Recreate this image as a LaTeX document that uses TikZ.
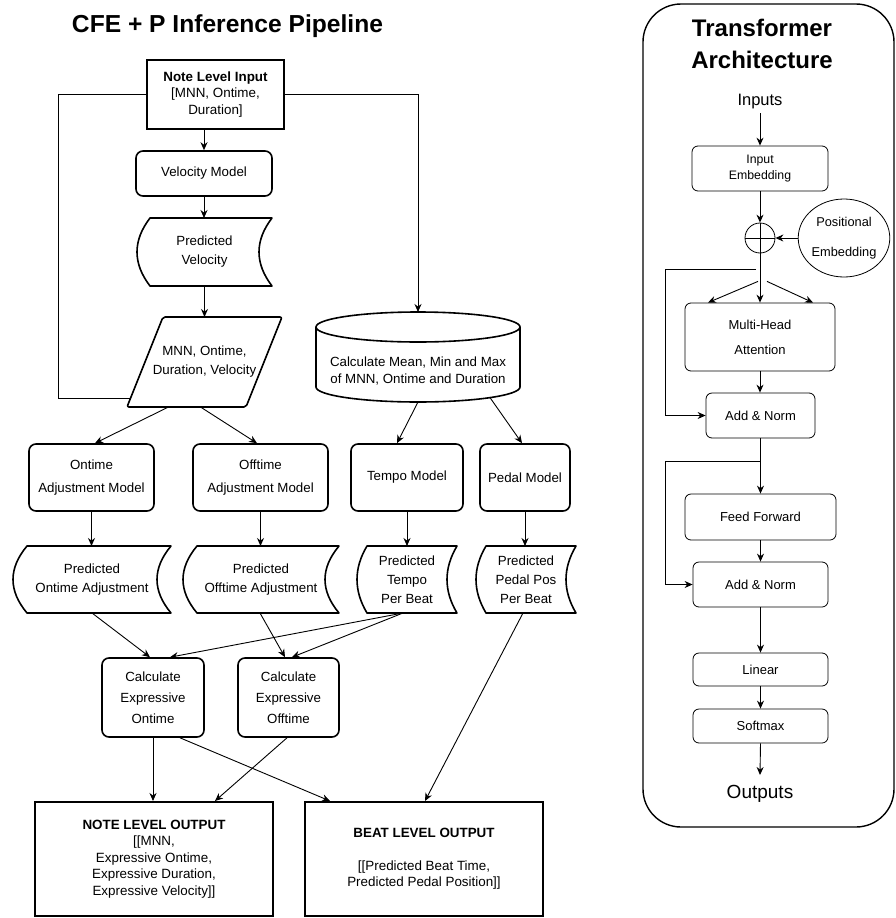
\documentclass[tikz,border=0pt]{standalone}
\usepackage{fontspec}
\setmainfont{Liberation Sans}
\usetikzlibrary{arrows.meta,calc,shapes.geometric}
\newcommand\storeshape[2]{%
  \draw[shp] ($(#1.north west)+(#2,0)$) -- (#1.north east)
    .. controls ($(#1.north east)!1/3!(#1.south east)+(-4*#2/3,0)$) and ($(#1.north east)!2/3!(#1.south east)+(-4*#2/3,0)$) .. (#1.south east)
    -- ($(#1.south west)+(#2,0)$)
    .. controls ($(#1.north west)!2/3!(#1.south west)+(-#2/3,0)$) and ($(#1.north west)!1/3!(#1.south west)+(-#2/3,0)$) .. ($(#1.north west)+(#2,0)$) -- cycle;}
\tikzset{
  fsz/.style 2 args={font=\fontsize{#1}{#2}\selectfont},
  lbox/.style={draw, line width=1.6pt, inner sep=0pt, align=center, fsz={13.3}{19}},
  lrbox/.style={lbox, rounded corners=7pt},
  ghost/.style={inner sep=0pt, outer sep=0pt, align=center, fsz={13.3}{19}},
  tbox/.style={draw, line width=0.8pt, rounded corners=6pt, inner sep=0pt, align=center, fsz={13}{15}},
  sz/.style 2 args={minimum width=#1pt, minimum height=#2pt},
  shp/.style={line width=1.6pt, line join=round},
  arr/.style={line width=0.9pt, -{Stealth[length=8pt,width=7pt]}},
  conn/.style={line width=0.9pt},
}
\begin{document}
\begin{tikzpicture}[x=1pt,y=-1pt]
\useasboundingbox (0,0) rectangle (896,918);

% ---------------- left pipeline ----------------
\node[font=\fontsize{24.6}{29}\selectfont\bfseries] (title) at (227.5,26) {CFE + P Inference Pipeline};

\node[lbox, line width=2pt, sz={137}{69}, fsz={13.4}{16.5}] (nli) at (215.5,94.5)
  {\textbf{Note Level Input}\\{[}MNN, Ontime,\\Duration{]}};
\node[lrbox, sz={136}{45}] (vm) at (204,173.5) {Velocity Model};
\node[ghost, sz={135}{68}] (pv) at (204.5,252) {Predicted\\Velocity};
\storeshape{pv}{13}
\node[ghost, sz={155}{90}] (par) at (204.5,362) {MNN, Ontime,\\Duration, Velocity};
\draw[shp, rounded corners=2pt] ($(par.north west)+(36,0)$) -- (par.north east) -- ($(par.south east)+(-36,0)$) -- (par.south west) -- cycle;

\node[ghost, sz={204}{90}] (cyl) at (418,357) {};
\draw[shp] ($(cyl.north)+(0,15)$) ellipse[x radius=102pt, y radius=15pt];
\draw[shp] ($(cyl.north west)+(0,15)$) -- ($(cyl.south west)+(0,-15)$)
  arc[start angle=180, end angle=360, x radius=102pt, y radius=15pt] -- ($(cyl.north east)+(0,15)$);
\node[ghost, fsz={13.3}{17}] (cylt) at (418,371.5) {Calculate Mean, Min and Max\\of MNN, Ontime and Duration};

\node[lrbox, sz={125}{67}, fsz={13.3}{23}] (oam) at (91.5,477.5) {Ontime\\Adjustment Model};
\node[lrbox, sz={135}{67}, fsz={13.3}{23}] (ofm) at (260.5,477.5) {Offtime\\Adjustment Model};
\node[lrbox, sz={112}{67}] (tm) at (407,477.5) {Tempo Model};
\node[lrbox, sz={90}{67}] (pm) at (525,477.5) {Pedal Model};

\node[ghost, sz={158}{67}] (poa) at (92,579.5) {Predicted\\Ontime Adjustment};
\storeshape{poa}{14}
\node[ghost, sz={156}{67}] (pfa) at (261,579.5) {Predicted\\Offtime Adjustment};
\storeshape{pfa}{14}
\node[ghost, sz={100}{67}] (pt) at (407,579.5) {Predicted\\Tempo\\Per Beat};
\storeshape{pt}{10}
\node[ghost, sz={100}{67}] (pp) at (526,579.5) {Predicted\\Pedal Pos\\Per Beat};
\storeshape{pp}{10}

\node[lrbox, sz={102}{79}, fsz={13.3}{21}] (ceo) at (153,697.5) {Calculate\\Expressive\\Ontime};
\node[lrbox, sz={101}{79}, fsz={13.3}{21}] (cef) at (288.5,697.5) {Calculate\\Expressive\\Offtime};

\node[lbox, line width=2pt, sz={238}{114}, fsz={13.4}{16.4}] (nlo) at (154,859)
  {\textbf{NOTE LEVEL OUTPUT}\\{[[}MNN,\\Expressive Ontime,\\Expressive Duration,\\Expressive Velocity{]]}};
\node[lbox, line width=2pt, sz={238}{114}, fsz={13.4}{16.4}] (blo) at (424,859)
  {\textbf{BEAT LEVEL OUTPUT}\\\mbox{}\\{[[}Predicted Beat Time,\\Predicted Pedal Position{]]}};

% connectors (left)
\draw[arr] (nli.south -| vm.north) -- (vm.north);
\draw[arr] (vm.south) -- (vm.south |- pv.north);
\draw[arr] (pv.south) -- (pv.south |- par.north);
\coordinate (loopL) at (58,398);
\coordinate (parL) at (130.6,398);
\draw[conn] (nli.west) -| (loopL) -- (parL);
\draw[arr] (nli.east) -| (cyl.north);
\draw[arr] ($(par.south)+(-36,0)$) -- ($(oam.north)+(3.5,0)$);
\draw[arr] ($(par.south)+(-4,0)$) -- ($(ofm.north)+(-3.5,0)$);
\draw[arr] (cyl.south) -- ($(tm.north)+(-10,0)$);
\draw[arr] ($(cyl.south)+(72,-4.4)$) -- ($(pm.north)+(-3,0)$);
\draw[arr] (oam.south) -- (oam.south |- poa.north);
\draw[arr] (ofm.south) -- (ofm.south |- pfa.north);
\draw[arr] (tm.south) -- (tm.south |- pt.north);
\draw[arr] (pm.south) -- (pm.south |- pp.north);
\draw[arr] (poa.south) -- ($(ceo.north)+(-3,0)$);
\draw[arr] ($(pt.south)+(-4,0)$) -- ($(ceo.north)+(17,0)$);
\draw[arr] ($(pfa.south)+(-1,0)$) -- ($(cef.north)+(-3.5,0)$);
\draw[arr] ($(pt.south)+(-4,0)$) -- ($(cef.north)+(3.5,0)$);
\draw[arr] (ceo.south) -- (ceo.south |- nlo.north);
\draw[arr] ($(ceo.south)+(27,0)$) -- ($(blo.north)+(-94,0)$);
\draw[arr] ($(cef.south)+(-1.5,0)$) -- ($(nlo.north)+(61,0)$);
\draw[arr] ($(pp.south)+(-3,0)$) -- ($(blo.north)+(1,0)$);

% ---------------- transformer ----------------
\node[draw, line width=1.4pt, rounded corners=38pt, sz={251}{823}] (tframe) at (768.5,415.5) {};
\node[align=center, font=\fontsize{24}{32}\selectfont\bfseries] (ttitle) at (762,44) {Transformer\\Architecture};
\node[inner sep=0pt, fsz={16.5}{19}] (inputs) at (760,102) {Inputs};
\node[tbox, sz={136}{45}, fsz={12.3}{16}] (ie) at (760,168.5) {Input\\Embedding};
\node[draw, circle, line width=0.8pt, minimum size=30pt, inner sep=0pt] (plus) at (760,238) {};
\draw[conn] (plus.north) -- (plus.south);
\draw[conn] (plus.west) -- (plus.east);
\node[draw, ellipse, line width=0.8pt, sz={86}{78}, inner sep=0pt, align=center, fsz={12.8}{30}] (pe) at (844,238) {Positional\\Embedding};
\node[tbox, sz={150}{68}, fsz={13}{25}] (mha) at (760,337) {Multi-Head\\Attention};
\node[tbox, sz={109}{45}] (an1) at (760.5,415.5) {Add \& Norm};
\node[tbox, sz={151}{46}] (ff) at (760.5,517) {Feed Forward};
\node[tbox, sz={135}{45}] (an2) at (760.5,584.5) {Add \& Norm};
\node[tbox, sz={135}{33}] (lin) at (760.5,669.5) {Linear};
\node[tbox, sz={135}{34}] (sm) at (760.5,726) {Softmax};
\node[inner sep=0pt, fsz={19}{22}] (outputs) at (760,794) {Outputs};
\coordinate (outtip) at (760,775);
\coordinate (intop) at (760,113);

\draw[arr] (intop) -- (ie.north);
\draw[arr] (ie.south) -- (plus.north);
\draw[arr] (pe.west) -- (plus.east);
\draw[arr] (plus.south) -- (mha.north);
\draw[arr] ($(plus.south)+(-2,28)$) -- ($(mha.north)+(-52,0)$);
\draw[arr] ($(plus.south)+(7,28)$) -- ($(mha.north)+(53,0)$);
\draw[arr] ($(plus.south)+(-4,16)$) -| ($(an1.west)+(-40,0)$) -- (an1.west);
\draw[arr] (mha.south) -- (mha.south |- an1.north);
\draw[arr] (an1.south) -- (an1.south |- ff.north);
\draw[arr] ($(an1.south)+(0,23)$) -| ($(an2.west)+(-27,0)$) -- (an2.west);
\draw[arr] (ff.south) -- (ff.south |- an2.north);
\draw[arr] (an2.south) -- (an2.south |- lin.north);
\draw[arr] (lin.south) -- (lin.south |- sm.north);
\draw[arr] (sm.south) -- (outtip);
\end{tikzpicture}
\end{document}
